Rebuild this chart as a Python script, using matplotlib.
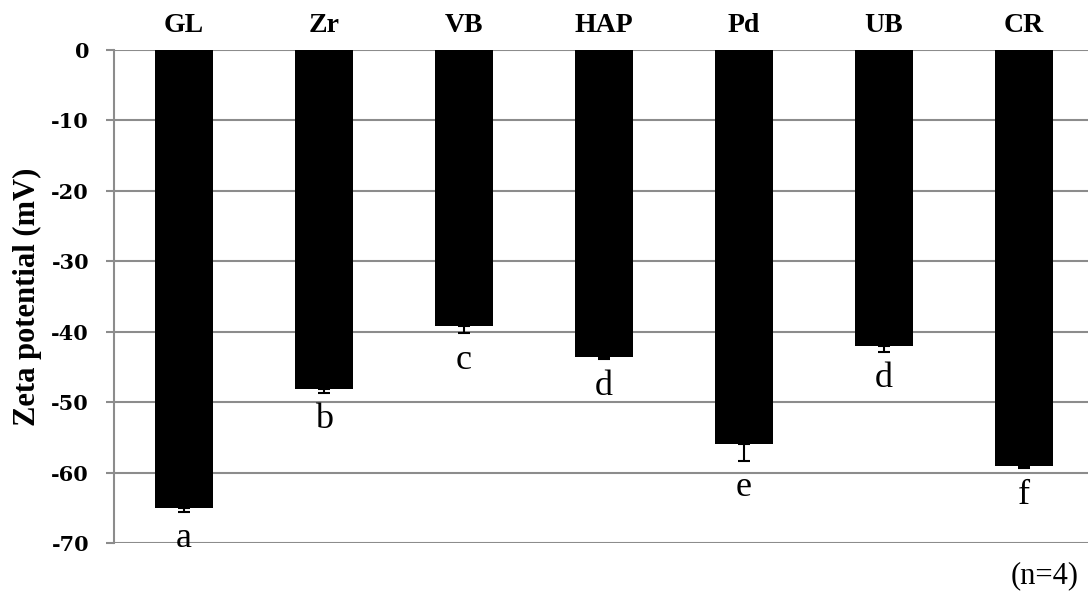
import matplotlib
matplotlib.use("Agg")
import matplotlib.pyplot as plt
import numpy as np

categories = ["GL", "Zr", "VB", "HAP", "Pd", "UB", "CR"]
zeta_mv = [-65.1, -48.1, -39.2, -43.6, -56.0, -42.1, -59.0]
zeta_sd = [0.5, 0.6, 1.0, 0.3, 2.3, 0.75, 0.4]
groups = ["a", "b", "c", "d", "e", "d", "f"]
y_ticks = [0, -10, -20, -30, -40, -50, -60, -70]

tick_serif = "DejaVu Serif"
text_serif = "Liberation Serif"
grid_gray = "#8c8c8c"

fig = plt.figure(figsize=(10.88, 5.94), dpi=100)
ax = fig.add_axes([0.1048, 0.0859, 0.9007, 0.8299])

x = np.arange(len(categories))
vals = np.array(zeta_mv)
sd = np.array(zeta_sd)

# downward error bars only, tucked behind the bars
ax.errorbar(x, vals, yerr=[sd, np.zeros_like(sd)], fmt="none", ecolor="black",
            elinewidth=1.5, capsize=4.6, capthick=1.5, zorder=2)
ax.bar(x, vals, width=0.41, color="black", zorder=3)

# significance letters under each error bar
for xi, v, s, g in zip(x, vals, sd, groups):
    ax.annotate(g, (xi, v - s), xytext=(0, -7.5), textcoords="offset points",
                ha="center", va="top", fontsize=26, family=text_serif)

ax.set_xlim(-0.5, len(categories) - 0.5)
ax.set_ylim(-70, 0)
ax.set_yticks(y_ticks)
ax.set_yticklabels([str(t) for t in y_ticks], fontsize=15, fontweight="bold",
                   family=tick_serif)
ax.yaxis.grid(True, color=grid_gray, linewidth=1.5, zorder=0)
ax.set_axisbelow(True)
ax.tick_params(axis="y", length=6, width=1.5, color=grid_gray, pad=12)

ax.xaxis.tick_top()
ax.set_xticks(x)
ax.set_xticklabels(categories, fontsize=20, fontweight="bold", family=text_serif)
ax.tick_params(axis="x", length=0, pad=9)

for side in ["top", "right", "bottom"]:
    ax.spines[side].set_visible(False)
ax.spines["left"].set_color(grid_gray)
ax.spines["left"].set_linewidth(1.5)

ax.set_ylabel("Zeta potential (mV)", fontsize=22, fontweight="bold",
              family=text_serif, labelpad=7)

fig.text(0.991, 0.03, "(n=4)", ha="right", va="center", fontsize=22,
         family=text_serif)

fig.savefig("out.png", dpi=100)
